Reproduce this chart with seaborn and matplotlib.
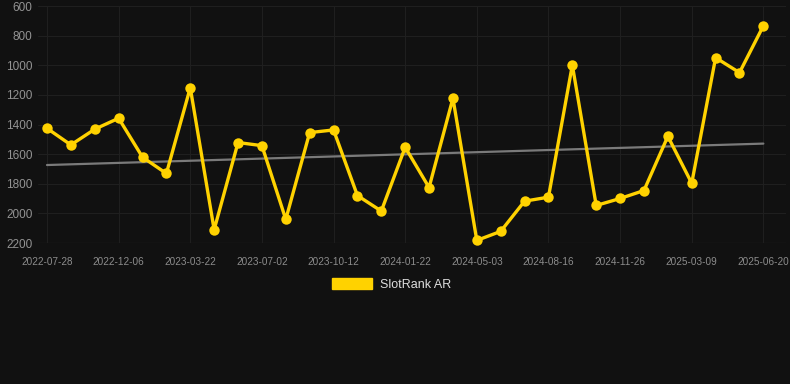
import numpy as np
import pandas as pd
import matplotlib
matplotlib.use("Agg")
import matplotlib.pyplot as plt
from matplotlib.patches import Patch
import seaborn as sns

# SlotRank AR values (lower rank = better, axis is inverted)
dates = ["2022-07-28", "", "", "2022-12-06", "", "", "2023-03-22", "", "", "2023-07-02",
         "", "", "2023-10-12", "", "", "2024-01-22", "", "", "2024-05-03", "", "",
         "2024-08-16", "", "", "2024-11-26", "", "", "2025-03-09", "", "", "2025-06-20"]
ranks = [1425, 1537, 1431, 1357, 1620, 1730, 1151, 2110, 1521, 1542,
         2040, 1454, 1436, 1879, 1984, 1553, 1825, 1222, 2182, 2121,
         1917, 1890, 998, 1946, 1899, 1845, 1479, 1796, 948, 1049, 733]
y_ticks = [600, 800, 1000, 1200, 1400, 1600, 1800, 2000, 2200]

bg = "#111111"
gold = "#FFD200"

df = pd.DataFrame({"pos": np.arange(len(ranks)), "rank": ranks})
coef = np.polyfit(df["pos"], df["rank"], 1)
df["trend"] = np.polyval(coef, df["pos"])

sns.set_style("dark")
plt.rcParams["font.family"] = ["Liberation Sans", "DejaVu Sans"]

fig = plt.figure(figsize=(7.9, 3.84), dpi=100, facecolor=bg)
ax = fig.add_axes([0.048, 0.367, 0.947, 0.617])
ax.set_facecolor(bg)

sns.lineplot(data=df, x="pos", y="trend", ax=ax, color="#7a7a7a", linewidth=1.6, zorder=2)
sns.lineplot(data=df, x="pos", y="rank", ax=ax, color=gold, linewidth=2.4,
             marker="o", markersize=7.5, markeredgewidth=0, zorder=3, clip_on=False)

ax.set_ylim(2200, 600)
ax.set_xlim(-0.38, 30.95)
ax.set_yticks(y_ticks)
ax.set_yticklabels([str(v) for v in y_ticks], fontsize=8.5, color="#939393")
tick_pos = [i for i, d in enumerate(dates) if d]
ax.set_xticks(tick_pos)
ax.set_xticklabels([dates[i] for i in tick_pos], fontsize=7.2, color="#8c8c8c")
ax.tick_params(axis="y", length=0, pad=4)
ax.tick_params(axis="x", length=0, pad=10)
ax.grid(True, color="#1f1f1f", linewidth=0.8)
for s in ax.spines.values():
    s.set_visible(False)
ax.axhline(2200, color="#262626", linewidth=0.9, zorder=1)
ax.set_xlabel("")
ax.set_ylabel("")

handle = Patch(facecolor=gold, edgecolor=gold)
fig.legend([handle], ["SlotRank AR"], loc="center", bbox_to_anchor=(0.496, 0.259),
           frameon=False, fontsize=9, labelcolor="#dddddd",
           handlelength=3.2, handleheight=1.0, handletextpad=0.6)

plt.savefig("out.png", dpi=100, facecolor=bg)
plt.close()
